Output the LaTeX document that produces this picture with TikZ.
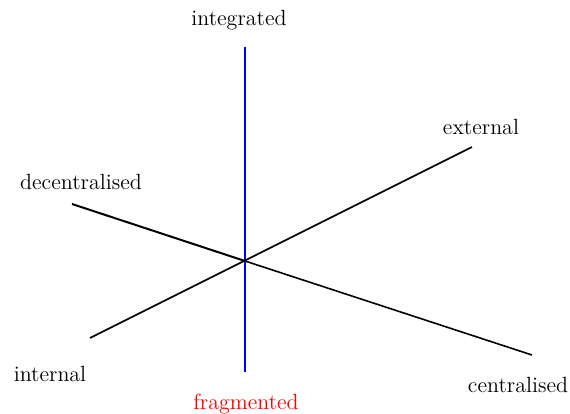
\documentclass[tikz,border=0pt]{standalone}
\usepackage{tikz}
\tikzset{
  axis/.style={line width=0.8pt, color=black},
  axisthick/.style={line width=1pt, color=black},
  vaxis/.style={line width=1pt, color=blue},
  lbl/.style={font=\fontsize{11}{13}\selectfont, inner sep=0pt, anchor=base},
}
\begin{document}
\begin{tikzpicture}[x=0.5pt, y=-0.5pt]
  \useasboundingbox (0,0) rectangle (570,414);
  \coordinate (o)   at (245,261);
  \coordinate (top) at (245,47);
  \coordinate (bot) at (245,372);
  \coordinate (dec) at (72,204);
  \coordinate (cen) at (532,355);
  \coordinate (ext) at (472,147);
  \coordinate (int) at (90,338);

  \node (integrated)    [lbl] at (239,25)  {integrated};
  \node (external)      [lbl] at (481,134) {external};
  \node (decentralised) [lbl] at (81,189)  {decentralised};
  \node (internal)      [lbl] at (50,381)  {internal};
  \node (fragmented)    [lbl, text=red] at (246,409) {fragmented};
  \node (centralised)   [lbl] at (518,392) {centralised};

  \draw [vaxis]     (top) -- (bot);
  \draw [axisthick] (dec) -- (o);
  \draw [axis]      (o) -- (cen);
  \draw [axis]      (int) -- (ext);
\end{tikzpicture}
\end{document}
